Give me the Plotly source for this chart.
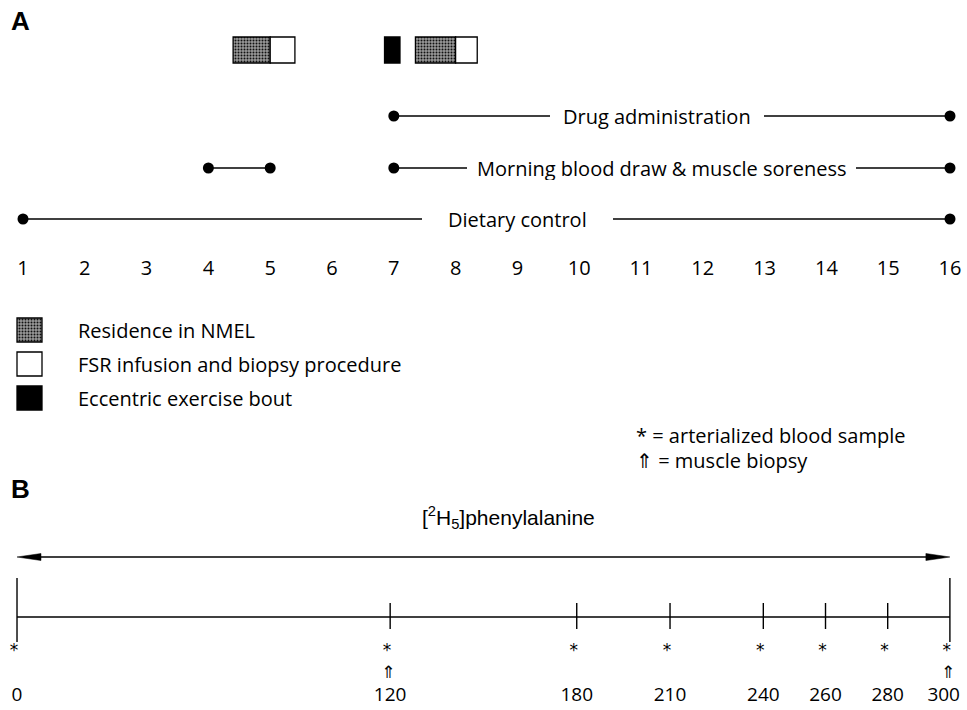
import plotly.graph_objects as go

# ---------------- data ----------------
days = list(range(1, 17))
period_names = ["Drug administration", "Morning blood draw & muscle soreness", "Dietary control"]
drug_days = [7, 16]
blood_days_early = [4, 5]
blood_days_late = [7, 16]
diet_days = [1, 16]

nmel_start = [4.4, 7.35]
nmel_end = [5.0, 8.0]
fsr_start = [5.0, 8.0]
fsr_end = [5.4, 8.35]
exercise_start = [6.85]
exercise_end = [7.1]

legend_names = ["Residence in NMEL", "FSR infusion and biopsy procedure", "Eccentric exercise bout"]

sample_times = [0, 120, 180, 210, 240, 260, 280, 300]
biopsy_times = [120, 300]
tracer_name = "[<sup>2</sup>H<sub>5</sub>]phenylalanine"
key_texts = ["* = arterialized blood sample", "\u21d1 = muscle biopsy"]

# ---------------- layout constants (pixels) ----------------
W, H = 967, 710
FONT = "Open Sans"
TXT = 20
Y_BOX, BOX_H = 50, 26
Y_DRUG, Y_BLOOD, Y_DIET, Y_DAYS = 116, 168, 219, 270
Y_LEG = [330, 364, 398]
LEG_X0, LEG_X1, LEG_TX = 17, 42, 76
Y_KEY = [435, 460]
KEY_X = 634
Y_TRACER, Y_ARROW, Y_LINE = 517, 557, 617
TALL = (578, 642)
SHORT = (603, 629)
Y_AST, Y_BIOP, Y_TLAB = 652, 674, 696

A_RANGE = [0.628, 16.275]     # day axis
B_RANGE = [-5.47, 305.5]      # minute axis
PX_PER_MIN = W / (B_RANGE[1] - B_RANGE[0])

SHADE = dict(shape=".", fgcolor="#111111", bgcolor="#9a9a9a", size=3, solidity=0.35, fillmode="replace")

fig = go.Figure()

# ---- boxes (panel A top) ----
def box_trace(starts, ends, color, pattern=None, xa="x"):
    mk = dict(color=color, line=dict(color="black", width=1.3))
    if pattern:
        mk["pattern"] = pattern
    return go.Bar(x=[e - s for s, e in zip(starts, ends)], base=starts,
                  y=[Y_BOX] * len(starts), orientation="h", width=BOX_H,
                  marker=mk, xaxis=xa, yaxis="y", showlegend=False, hoverinfo="skip")

fig.add_trace(box_trace(nmel_start, nmel_end, "#9a9a9a", SHADE))
fig.add_trace(box_trace(fsr_start, fsr_end, "white"))
fig.add_trace(box_trace(exercise_start, exercise_end, "black"))

# ---- period lines ----
def period(xs, y):
    fig.add_trace(go.Scatter(x=xs, y=[y] * len(xs), mode="lines+markers",
                             line=dict(color="black", width=1.4),
                             marker=dict(color="black", size=11),
                             xaxis="x", yaxis="y", showlegend=False, hoverinfo="skip"))

period(drug_days, Y_DRUG)
period(blood_days_early, Y_BLOOD)
period(blood_days_late, Y_BLOOD)
period(diet_days, Y_DIET)

label_pos = [11.26, 11.33, 9.0]
label_pad = [13, 10, 26]
for name, y, xc, pad in zip(period_names, [Y_DRUG, Y_BLOOD, Y_DIET], label_pos, label_pad):
    fig.add_annotation(x=xc, y=y, xref="x", yref="y", text=name, showarrow=False,
                       bgcolor="white", borderpad=pad, borderwidth=0,
                       font=dict(family=FONT, size=TXT, color="black"))

# ---- day numbers ----
fig.add_trace(go.Scatter(x=days, y=[Y_DAYS] * len(days), mode="text", text=[str(d) for d in days],
                         textfont=dict(family=FONT, size=TXT, color="black"),
                         xaxis="x", yaxis="y", showlegend=False, hoverinfo="skip"))

# ---- legend swatches (pixel axis x3) ----
leg_styles = [("#9a9a9a", SHADE), ("white", None), ("black", None)]
for (col, pat), y, name in zip(leg_styles, Y_LEG, legend_names):
    mk = dict(color=col, line=dict(color="black", width=1.3))
    if pat:
        mk["pattern"] = pat
    fig.add_trace(go.Bar(x=[LEG_X1 - LEG_X0], base=[LEG_X0], y=[y], orientation="h", width=24,
                         marker=mk, xaxis="x3", yaxis="y", showlegend=False, hoverinfo="skip"))
    fig.add_annotation(x=LEG_TX, y=y, xref="x3", yref="y", text=name, showarrow=False,
                       xanchor="left", font=dict(family=FONT, size=TXT, color="black"))

# ---- panel letters ----
for letter, y in [("A", 21), ("B", 489)]:
    fig.add_annotation(x=9, y=y, xref="x3", yref="y", text=f"<b>{letter}</b>", showarrow=False,
                       xanchor="left", font=dict(family="Liberation Sans", size=26, color="black"))

# ---- key (right) ----
for t, y in zip(key_texts, Y_KEY):
    fig.add_annotation(x=KEY_X, y=y, xref="x3", yref="y", text=t, showarrow=False,
                       xanchor="left", font=dict(family=FONT, size=TXT, color="black"))

# ---- panel B ----
t0, t1 = sample_times[0], sample_times[-1]
fig.add_annotation(x=(t0 + t1) / 2 + 8, y=Y_TRACER, xref="x2", yref="y", text=tracer_name,
                   showarrow=False, font=dict(family="Liberation Sans Narrow, Liberation Sans", size=21, color="black"))

# double arrow: shaft + elongated heads
head_len = 24 / PX_PER_MIN
head_half = 3.5
fig.add_trace(go.Scatter(x=[t0 + head_len * 0.5, t1 - head_len * 0.5], y=[Y_ARROW, Y_ARROW], mode="lines",
                         line=dict(color="black", width=1.6), xaxis="x2", yaxis="y",
                         showlegend=False, hoverinfo="skip"))
for tip, back in [(t0, t0 + head_len), (t1, t1 - head_len)]:
    fig.add_shape(type="path", xref="x2", yref="y",
                  path=f"M {tip},{Y_ARROW} L {back},{Y_ARROW - head_half} L {back},{Y_ARROW + head_half} Z",
                  fillcolor="black", line=dict(color="black", width=0.5))

# timeline
fig.add_trace(go.Scatter(x=[t0, t1], y=[Y_LINE, Y_LINE], mode="lines",
                         line=dict(color="black", width=1.4), xaxis="x2", yaxis="y",
                         showlegend=False, hoverinfo="skip"))
tx, ty = [], []
for t in sample_times:
    lo, hi = TALL if t in (t0, t1) else SHORT
    tx += [t, t, None]
    ty += [lo, hi, None]
fig.add_trace(go.Scatter(x=tx, y=ty, mode="lines", line=dict(color="black", width=1.4),
                         xaxis="x2", yaxis="y", showlegend=False, hoverinfo="skip"))

fig.add_trace(go.Scatter(x=[t - 1 for t in sample_times], y=[Y_AST] * len(sample_times), mode="text",
                         text=["*"] * len(sample_times),
                         textfont=dict(family="DejaVu Sans", size=17, color="black"),
                         xaxis="x2", yaxis="y", showlegend=False, hoverinfo="skip"))
fig.add_trace(go.Scatter(x=[t - 0.5 for t in biopsy_times], y=[Y_BIOP] * len(biopsy_times), mode="text",
                         text=["\u21d1"] * len(biopsy_times),
                         textfont=dict(family="DejaVu Sans", size=17, color="black"),
                         xaxis="x2", yaxis="y", showlegend=False, hoverinfo="skip"))
fig.add_trace(go.Scatter(x=[t - 2 if t == t1 else t for t in sample_times], y=[Y_TLAB] * len(sample_times),
                         mode="text", text=[str(t) for t in sample_times],
                         textfont=dict(family=FONT, size=19, color="black"),
                         xaxis="x2", yaxis="y", showlegend=False, hoverinfo="skip"))

hidden = dict(visible=False, showgrid=False, zeroline=False, fixedrange=True)
fig.update_layout(
    width=W, height=H, margin=dict(l=0, r=0, t=0, b=0),
    paper_bgcolor="white", plot_bgcolor="white", showlegend=False,
    barmode="overlay",
    xaxis=dict(range=A_RANGE, domain=[0, 1], **hidden),
    xaxis2=dict(range=B_RANGE, domain=[0, 1], overlaying="x", anchor="y", **hidden),
    xaxis3=dict(range=[0, W], domain=[0, 1], overlaying="x", anchor="y", **hidden),
    yaxis=dict(range=[H, 0], domain=[0, 1], **hidden),
)

fig.write_html("out.html", config={"displayModeBar": False},
               post_script="document.body.style.margin='0';")
